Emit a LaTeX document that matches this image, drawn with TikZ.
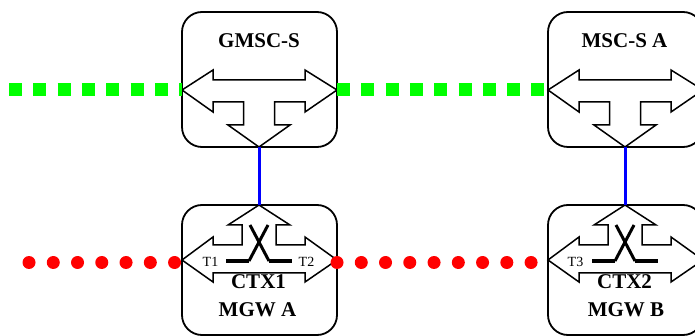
\documentclass[tikz,border=0pt]{standalone}
\usepackage{fontspec}
\setmainfont{Liberation Serif}
\begin{document}
\begin{tikzpicture}[x=1pt,y=-1pt,
  box/.style={draw=black, line width=1.8pt, rounded corners=20pt, minimum width=155pt, inner sep=0pt, outer sep=0pt},
  shapeline/.style={draw=black, line width=1.5pt, line join=miter},
  boldlbl/.style={inner sep=0pt, font=\fontsize{21}{24}\selectfont\bfseries},
  tlbl/.style={inner sep=0pt, font=\fontsize{14}{16}\selectfont},
  greenline/.style={draw={rgb,255:red,0;green,255;blue,0}, line width=13pt, dash pattern=on 13pt off 11.3pt},
  redline/.style={draw=red, line width=13pt, line cap=round, dash pattern=on 0.01pt off 24.25pt},
  blueline/.style={draw=blue, line width=3pt},
  xline/.style={draw=black, line width=3pt},
  barline/.style={draw=black, line width=3.5pt}]
\useasboundingbox (0,0) rectangle (695,336);

% boxes
\node[box, minimum height=135pt] (gmsc) at (259.5,79.5) {};
\node[box, minimum height=135pt] (msc) at (625.5,79.5) {};
\node[box, minimum height=130pt] (mgwa) at (259.5,270) {};
\node[box, minimum height=130pt] (mgwb) at (625.5,270) {};

% tips
\coordinate (tgmsc) at (259,147);
\coordinate (tmsc) at (625,147);
\coordinate (tmgwa) at (259,205);
\coordinate (tmgwb) at (625,205);

% upper arrow shapes
\foreach \t in {tgmsc,tmsc}{
\begin{scope}[shift={(\t)}]
\draw[shapeline] (-77,-57) -- (-46,-77) -- (-46,-67) -- (46,-67) -- (46,-77) -- (78,-57)
  -- (46,-35) -- (46,-45) -- (15.5,-45) -- (15.5,-22) -- (31,-22) -- (0,0) -- (-31,-22)
  -- (-15.5,-22) -- (-15.5,-45) -- (-46,-45) -- (-46,-35) -- cycle;
\end{scope}}

% lower arrow shapes with cross-connect
\foreach \t in {tmgwa,tmgwb}{
\begin{scope}[shift={(\t)}]
\draw[shapeline] (0,0) -- (31,20) -- (17,20) -- (17,40) -- (46,40) -- (46,32) -- (78,55)
  -- (46,77) -- (46,68) -- (-46,68) -- (-46,77) -- (-77,55) -- (-46,32) -- (-46,40)
  -- (-17,40) -- (-17,20) -- (-31,20) -- cycle;
\draw[xline] (-10,56) -- (9,20);
\draw[xline] (10,56) -- (-9,20);
\draw[barline] (-33,56) -- (-10,56);
\draw[barline] (10,56) -- (33,56);
\end{scope}}

% labels
\node[boldlbl] (lgmsc) at (259,40.5) {GMSC-S};
\node[boldlbl] (lmsc) at (624.5,40.5) {MSC-S A};
\node[boldlbl] (lctx1) at (258.5,281.5) {CTX1};
\node[boldlbl] (lmgwa) at (257.5,309.5) {MGW A};
\node[boldlbl] (lctx2) at (624.5,281.5) {CTX2};
\node[boldlbl] (lmgwb) at (626,309.5) {MGW B};
\node[tlbl] (t1) at (210.5,262) {T1};
\node[tlbl] (t2) at (306.5,262) {T2};
\node[tlbl] (t3) at (575.5,262) {T3};

% blue links
\draw[blueline] (tgmsc) -- (tmgwa);
\draw[blueline] (tmsc) -- (tmgwb);

% green signalling lines
\coordinate (gstart) at (9,89.5);
\draw[greenline] (gstart) -- (gstart -| gmsc.west);
\draw[greenline] (gstart -| gmsc.east) -- (gstart -| msc.west);

% red bearer lines
\coordinate (rstart) at (29,262.5);
\draw[redline] (rstart) -- (rstart -| mgwa.west);
\draw[redline] (rstart -| mgwa.east) -- (rstart -| mgwb.west);
\end{tikzpicture}
\end{document}
